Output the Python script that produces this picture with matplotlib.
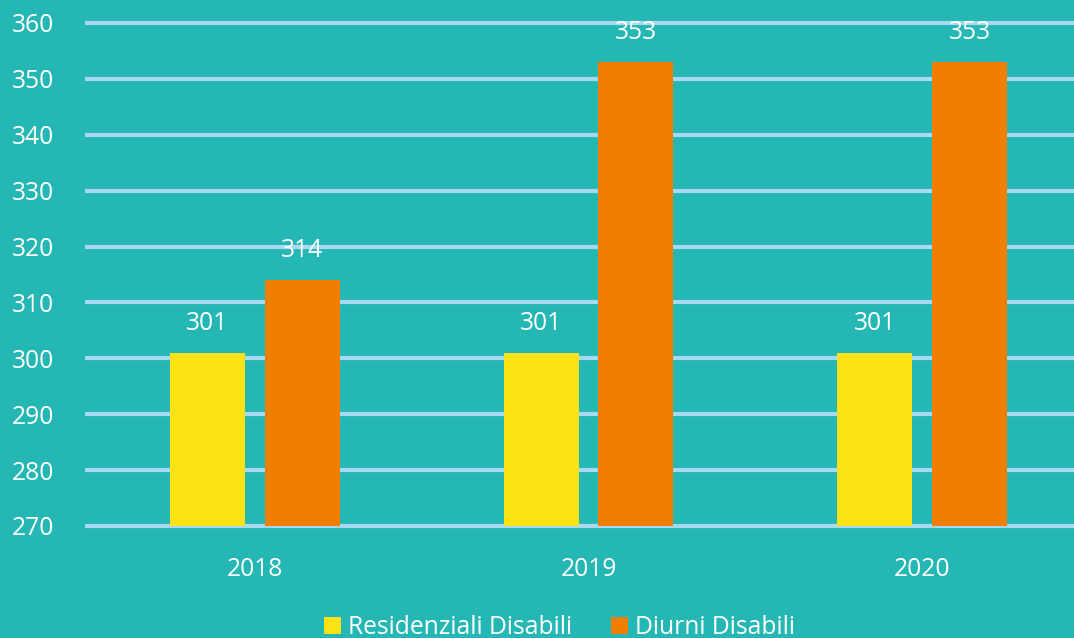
import matplotlib
matplotlib.use("Agg")
import matplotlib.pyplot as plt
import numpy as np

categories = ["2018", "2019", "2020"]
series_names = ["Residenziali Disabili", "Diurni Disabili"]
residenziali = [301, 301, 301]
diurni = [314, 353, 353]
yticks = [270, 280, 290, 300, 310, 320, 330, 340, 350, 360]

BG = "#25B7B4"
GRID = "#A9D9F0"
YEL = "#FDE216"
ORA = "#F07F00"

plt.rcParams['font.family'] = ['Open Sans', 'DejaVu Sans']

fig = plt.figure(figsize=(10.74, 6.38), dpi=100, facecolor=BG)
W, H = 1074, 638
ax = fig.add_axes([85 / W, (H - 526) / H, (1089 - 85) / W, (526 - 23) / H])
ax.set_facecolor(BG)

x = np.arange(len(categories))
bw = 0.225
off = 0.142
b1 = ax.bar(x - off, residenziali, bw, color=YEL, zorder=3, label=series_names[0])
b2 = ax.bar(x + off, diurni, bw, color=ORA, zorder=3, label=series_names[1])

for bars, vals in ((b1, residenziali), (b2, diurni)):
    for rect, v in zip(bars, vals):
        ax.annotate(str(v), (rect.get_x() + rect.get_width() / 2, v),
                    xytext=(0, 12), textcoords="offset points",
                    ha="center", va="bottom", color="white", fontsize=17.7, zorder=4)

ax.set_ylim(270, 360)
ax.set_xlim(-0.509, 2.5)
ax.set_yticks(yticks)
ax.set_xticks(x)
ax.set_xticklabels(categories)
ax.yaxis.grid(True, color=GRID, linewidth=3.0, zorder=0, solid_capstyle="butt")
for gl in ax.get_ygridlines():
    gl.set_clip_on(False)
ax.set_axisbelow(True)
for s in ax.spines.values():
    s.set_visible(False)
ax.tick_params(axis="both", length=0, colors="white", labelsize=17.7)
ax.tick_params(axis="y", pad=22)
ax.tick_params(axis="x", pad=22)

fig.legend(handles=[b1, b2], labels=series_names, loc="lower center",
           bbox_to_anchor=(0.521, -0.038), ncol=2, frameon=False,
           labelcolor="white", fontsize=17.7, handlelength=0.7, handleheight=0.7,
           handletextpad=0.3, columnspacing=1.55)

fig.savefig("out.png", dpi=100, facecolor=BG)
